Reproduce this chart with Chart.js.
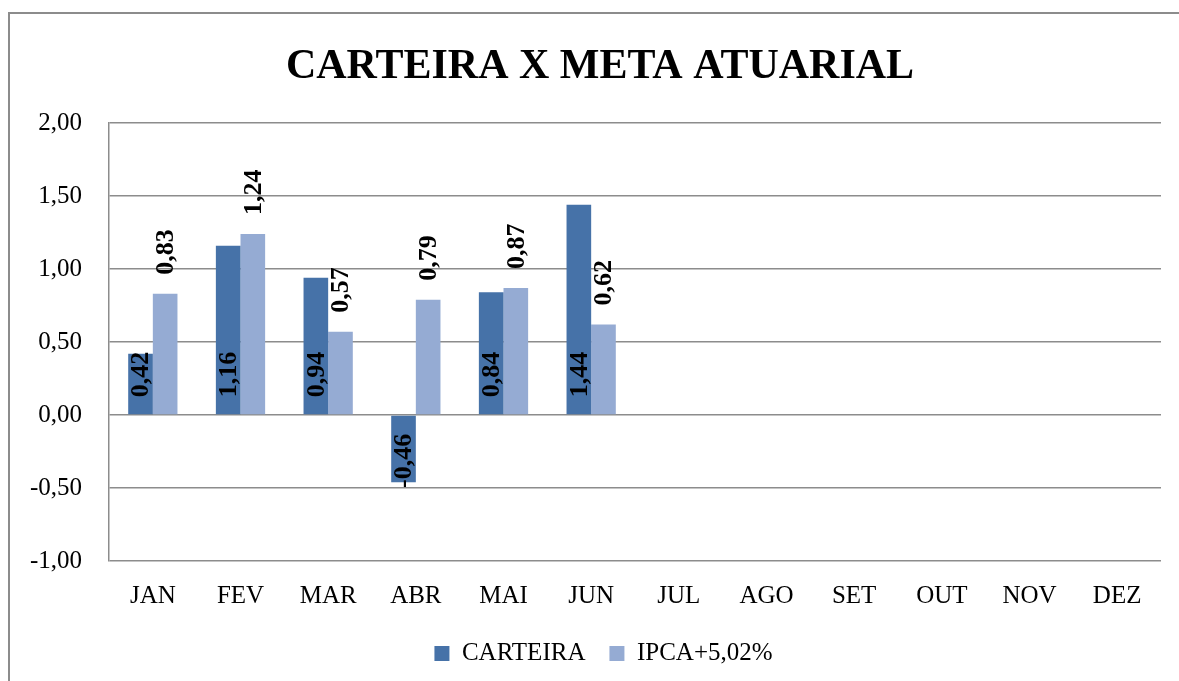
<!DOCTYPE html>
<html>
<head>
<meta charset="utf-8">
<script src="https://cdn.jsdelivr.net/npm/chart.js@4/dist/chart.umd.min.js"></script>
<style>
  html, body { margin: 0; padding: 0; background: #fff; overflow: hidden; }
  #frame { position: absolute; left: 8px; top: 12px; width: 1200px; height: 700px; border: 2px solid #8c8c8c; }
  #wrap { position: absolute; left: 0; top: 0; width: 1179px; height: 681px; }
</style>
</head>
<body>
<div id="frame"></div>
<div id="wrap"><canvas id="Chart"></canvas></div>
<script>
const labels = ["JAN", "FEV", "MAR", "ABR", "MAI", "JUN", "JUL", "AGO", "SET", "OUT", "NOV", "DEZ"];
const carteira = [0.42, 1.16, 0.94, -0.46, 0.84, 1.44, null, null, null, null, null, null];
const ipca = [0.83, 1.24, 0.57, 0.79, 0.87, 0.62, null, null, null, null, null, null];
const yTicks = [-1, -0.5, 0, 0.5, 1, 1.5, 2];

const fmt = v => v.toFixed(2).replace(".", ",");
const serif = "'Liberation Serif', 'Times New Roman', serif";

// rotated value labels: first series inside the base, second above the bar end
const barLabels = {
    id: "barLabels",
    afterLayout(chart) {
        // centre title and legend on the frame rather than the whole canvas
        if (chart.titleBlock) chart.titleBlock.left = 39;
        if (chart.legend) chart.legend.left = 46;
    },
    afterDatasetsDraw(chart) {
        const ctx = chart.ctx;
        ctx.save();
        ctx.font = "bold 26px " + serif;
        ctx.fillStyle = "#000";
        ctx.textBaseline = "middle";
        chart.data.datasets.forEach((ds, i) => {
            const meta = chart.getDatasetMeta(i);
            meta.data.forEach((bar, j) => {
                const v = ds.data[j];
                if (v === null || v === undefined) return;
                const txt = fmt(v);
                const w = ctx.measureText(txt).width;
                let cy;
                if (i === 0) {
                    cy = v >= 0 ? bar.base - 17 - w / 2 : bar.base + 18 + w / 2;
                } else {
                    cy = bar.y - 19 - w / 2;
                }
                ctx.save();
                ctx.translate(bar.x + 1, cy);
                ctx.rotate(-Math.PI / 2);
                ctx.textAlign = "center";
                ctx.fillText(txt, 0, 0);
                ctx.restore();
            });
        });
        ctx.restore();
    }
};

const data = {
    labels: labels,
    datasets: [{
            label: "CARTEIRA",
            backgroundColor: "#4672A8",
            data: carteira,
        },
        {
            label: "IPCA+5,02%",
            backgroundColor: "#95ABD3",
            data: ipca,
        },
    ],
};

const config = {
    type: "bar",
    data: data,
    plugins: [barLabels],
    options: {
        responsive: true,
        maintainAspectRatio: false,
        animation: false,
        datasets: { bar: { categoryPercentage: 0.562, barPercentage: 1.0 } },
        layout: { padding: { left: 0, right: 18, top: 0, bottom: 5 } },
        plugins: {
            title: {
                display: true,
                text: "CARTEIRA X META ATUARIAL",
                color: "#000",
                font: { family: serif, size: 42, weight: "bold" },
                padding: { top: 42, bottom: 30.6 }
            },
            legend: {
                position: "bottom",
                labels: {
                    color: "#000",
                    font: { family: serif, size: 25 },
                    boxWidth: 15,
                    boxHeight: 15,
                    padding: 24
                }
            },
            tooltip: { enabled: false }
        },
        scales: {
            x: {
                grid: { display: false, drawTicks: false },
                border: { display: false },
                ticks: { color: "#000", font: { family: serif, size: 25 }, padding: 20 },
                afterFit(scale) { scale.height = 56; }
            },
            y: {
                min: -1,
                max: 2,
                afterBuildTicks(scale) { scale.ticks = yTicks.map(v => ({ value: v })); },
                grid: { color: "#8c8c8c", lineWidth: 1.5, drawTicks: false },
                border: { display: true, color: "#8c8c8c", width: 1.5 },
                ticks: {
                    color: "#000",
                    font: { family: serif, size: 25 },
                    padding: 27,
                    callback: v => fmt(v)
                },
                afterFit(scale) { scale.width = 109; }
            }
        }
    }
};

const myChart = new Chart(document.getElementById("Chart"), config);
</script>
</body>
</html>
